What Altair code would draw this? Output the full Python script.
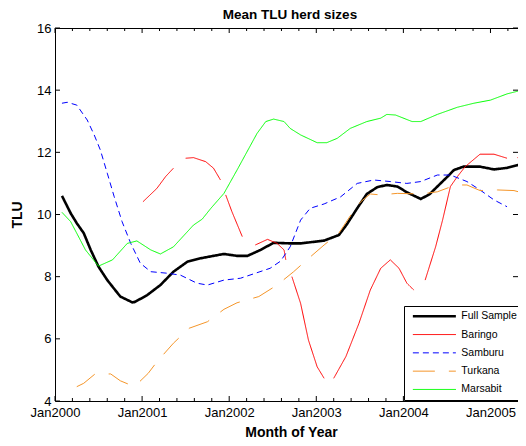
import altair as alt
import pandas as pd

# ---------------- data ----------------
series_names = ["Full Sample", "Baringo", "Samburu", "Turkana", "Marsabit"]
series_colors = ["#000000", "#ff0000", "#0000ff", "#f5962a", "#00ff00"]
series_dash = [[1, 0], [1, 0], [6, 4], [22, 14], [1, 0]]

full_t = [2000.08, 2000.18, 2000.25, 2000.33, 2000.41, 2000.50, 2000.60, 2000.75, 2000.89, 2000.92,
          2001.06, 2001.21, 2001.36, 2001.52, 2001.67, 2001.80, 2001.94, 2002.09, 2002.21, 2002.36,
          2002.51, 2002.70, 2002.82, 2003.09, 2003.26, 2003.35, 2003.47, 2003.58, 2003.70, 2003.81,
          2003.93, 2004.05, 2004.20, 2004.30, 2004.39, 2004.50, 2004.58, 2004.69, 2004.88, 2005.04,
          2005.19, 2005.36]
full_v = [10.60, 10.04, 9.72, 9.40, 8.86, 8.32, 7.89, 7.36, 7.17, 7.19,
          7.41, 7.73, 8.16, 8.48, 8.59, 8.66, 8.73, 8.67, 8.67, 8.86,
          9.09, 9.07, 9.07, 9.16, 9.34, 9.68, 10.20, 10.66, 10.88, 10.95,
          10.90, 10.70, 10.50, 10.65, 10.90, 11.20, 11.43, 11.54, 11.54, 11.45,
          11.50, 11.62]

baringo_t = [2001.01, 2001.17, 2001.27, 2001.36,
             2001.50, 2001.59, 2001.73, 2001.82, 2001.90,
             2001.96, 2002.03, 2002.15,
             2002.30, 2002.44, 2002.55, 2002.63, 2002.65,
             2002.72, 2002.82, 2002.91, 2003.01, 2003.09,
             2003.20, 2003.34, 2003.49, 2003.62, 2003.74, 2003.85, 2003.95, 2004.04, 2004.12,
             2004.25, 2004.37, 2004.45, 2004.54, 2004.62, 2004.71, 2004.88, 2005.04, 2005.19,
             2005.31, 2005.36]
baringo_v = [10.41, 10.84, 11.22, 11.49,
             11.81, 11.83, 11.70, 11.49, 11.11,
             10.63, 10.10, 9.29,
             9.02, 9.20, 9.07, 8.86, 8.54,
             8.00, 7.14, 5.96, 5.10, 4.73,
             4.73, 5.43, 6.50, 7.57, 8.27, 8.54, 8.27, 7.79, 7.57,
             7.89, 8.96, 9.82, 10.90, 11.22, 11.54, 11.94, 11.94, 11.81,
             11.83, 11.84]
baringo_seg = [1, 1, 1, 1,
               2, 2, 2, 2, 2,
               3, 3, 3,
               4, 4, 4, 4, 4,
               5, 5, 5, 5, 5,
               6, 6, 6, 6, 6, 6, 6, 6, 6,
               7, 7, 7, 7, 7, 7, 7, 7, 7,
               8, 8]

samburu_t = [2000.08, 2000.14, 2000.25, 2000.37, 2000.45, 2000.52, 2000.60, 2000.68, 2000.77, 2000.87,
             2000.98, 2001.10, 2001.29, 2001.44, 2001.63, 2001.75, 2001.94, 2002.13, 2002.28, 2002.47,
             2002.59, 2002.70, 2002.82, 2002.93, 2003.09, 2003.28, 2003.47, 2003.66, 2003.85, 2004.04,
             2004.20, 2004.39, 2004.54, 2004.73, 2004.88, 2005.04, 2005.19]
samburu_v = [13.58, 13.61, 13.52, 13.04, 12.56, 12.08, 11.33, 10.57, 9.77, 9.07,
             8.43, 8.16, 8.11, 8.05, 7.79, 7.73, 7.89, 7.95, 8.09, 8.27,
             8.50, 8.96, 9.82, 10.20, 10.34, 10.57, 11.00, 11.11, 11.06, 11.00,
             11.06, 11.27, 11.27, 11.06, 10.79, 10.47, 10.25]

turkana_t = [2000.25, 2000.33, 2000.46, 2000.64, 2000.75, 2000.87, 2000.93, 2001.07, 2001.17, 2001.36,
             2001.54, 2001.75, 2001.94, 2002.09, 2002.34, 2002.55, 2002.74, 2002.90, 2003.09, 2003.26,
             2003.41, 2003.51, 2003.62, 2003.74, 2003.93, 2004.20, 2004.39, 2004.60, 2004.73, 2004.88,
             2005.08, 2005.27, 2005.36]
turkana_v = [4.46, 4.57, 4.87, 4.87, 4.65, 4.51, 4.51, 4.89, 5.26, 5.86,
             6.34, 6.55, 6.95, 7.16, 7.36, 7.73, 8.16, 8.56, 9.02, 9.40,
             10.04, 10.41, 10.66, 10.63, 10.68, 10.66, 10.73, 10.95, 10.95, 10.77,
             10.79, 10.77, 10.70]

marsabit_t = [2000.08, 2000.18, 2000.35, 2000.50, 2000.66, 2000.83, 2000.94, 2001.10, 2001.21, 2001.36,
              2001.59, 2001.69, 2001.79, 2001.94, 2002.09, 2002.32, 2002.42, 2002.51, 2002.63, 2002.70,
              2002.82, 2003.01, 2003.12, 2003.24, 2003.39, 2003.58, 2003.74, 2003.81, 2003.91, 2004.10,
              2004.20, 2004.39, 2004.62, 2004.81, 2005.00, 2005.19, 2005.36]
marsabit_v = [10.07, 9.77, 8.86, 8.34, 8.54, 9.07, 9.15, 8.86, 8.73, 8.96,
              9.66, 9.85, 10.20, 10.68, 11.43, 12.61, 12.99, 13.07, 12.99, 12.77,
              12.56, 12.31, 12.31, 12.45, 12.77, 12.99, 13.10, 13.22, 13.20, 12.99,
              12.99, 13.22, 13.45, 13.58, 13.68, 13.88, 14.00]

y_ticks = [4, 6, 8, 10, 12, 14, 16]
x_major = [2000, 2001, 2002, 2003, 2004, 2005]
x_minor = [2000.2, 2000.4, 2000.6, 2000.8, 2001.2, 2001.4, 2001.6, 2001.8,
           2002.2, 2002.4, 2002.6, 2002.8, 2003.2, 2003.4, 2003.6, 2003.8,
           2004.2, 2004.4, 2004.6, 2004.8, 2005.2]

# ---------------- build table ----------------
rows = []
def add(name, ts, vs, segs=None):
    for i, (t, v) in enumerate(zip(ts, vs)):
        s = segs[i] if segs else 0
        rows.append({"series": name, "seg": f"{name}-{s}", "t": t, "v": v})

add("Full Sample", full_t, full_v)
add("Baringo", baringo_t, baringo_v, baringo_seg)
add("Samburu", samburu_t, samburu_v)
add("Turkana", turkana_t, turkana_v)
add("Marsabit", marsabit_t, marsabit_v)
df = pd.DataFrame(rows)

W, H = 463, 373
FONT = "Liberation Sans"
XDOM = [2000, 2005.316]

xscale = alt.Scale(domain=XDOM, nice=False, zero=False)
yscale = alt.Scale(domain=[4, 16], nice=False, zero=False)

x_axis = alt.Axis(values=x_major, labelExpr="'Jan' + datum.value", ticks=False, domain=False,
                  grid=False, labelPadding=5, labelFlush=False, title="Month of Year",
                  titlePadding=6, titleFontSize=14, titleX=236)
y_axis = alt.Axis(values=y_ticks, ticks=False, domain=False, grid=False, labelPadding=4,
                  labelFlush=False, title="TLU", titlePadding=12, titleFontSize=14)

leg = alt.Legend(
    title=None, orient="none", legendX=349, legendY=278,
    symbolType="M-0.5,0H7.5", symbolSize=115.6, rowPadding=7.3,
    padding=5, symbolOffset=1.3, labelOffset=40.5,
    fillColor="white", strokeColor="black",
    labelFont=FONT, labelFontSize=10.5, labelColor="black",
    symbolStrokeWidth=alt.ExprRef(expr="datum.value === 'Full Sample' ? 2.6 : 1"),
)

lines = alt.Chart(df).mark_line(interpolate="linear", strokeCap="butt", clip=True).encode(
    x=alt.X("t:Q", scale=xscale, axis=x_axis),
    y=alt.Y("v:Q", scale=yscale, axis=y_axis),
    color=alt.Color("series:N", scale=alt.Scale(domain=series_names, range=series_colors), legend=leg),
    strokeDash=alt.StrokeDash("series:N", scale=alt.Scale(domain=series_names, range=series_dash), legend=leg),
    strokeWidth=alt.condition(alt.datum.series == "Full Sample", alt.value(2.6), alt.value(1)),
    detail="seg:N",
)

tick_df = pd.DataFrame(
    [{"t": t, "len": 5} for t in x_major] + [{"t": t, "len": 3} for t in x_minor]
)
ytick_df = pd.DataFrame({"v": y_ticks})

xt = alt.X("t:Q", scale=xscale, axis=x_axis)
yt = alt.Y("v:Q", scale=yscale, axis=y_axis)

xt_bottom_major = alt.Chart(tick_df[tick_df["len"] == 5]).mark_rule(color="black").encode(
    x=xt, y=alt.value(H), y2=alt.value(H - 5))
xt_bottom_minor = alt.Chart(tick_df[tick_df["len"] == 3]).mark_rule(color="black").encode(
    x=xt, y=alt.value(H), y2=alt.value(H - 3))
xt_top_major = alt.Chart(tick_df[tick_df["len"] == 5]).mark_rule(color="black").encode(
    x=xt, y=alt.value(0), y2=alt.value(5))
xt_top_minor = alt.Chart(tick_df[tick_df["len"] == 3]).mark_rule(color="black").encode(
    x=xt, y=alt.value(0), y2=alt.value(3))
yt_left = alt.Chart(ytick_df).mark_rule(color="black").encode(
    y=yt, x=alt.value(0), x2=alt.value(5))
yt_right = alt.Chart(ytick_df).mark_rule(color="black").encode(
    y=yt, x=alt.value(W), x2=alt.value(W - 5))

chart = alt.layer(
    lines, xt_bottom_major, xt_bottom_minor, xt_top_major, xt_top_minor, yt_left, yt_right
).properties(
    width=W, height=H,
    title=alt.TitleParams("Mean TLU herd sizes", font=FONT, fontSize=13.5, fontWeight="bold",
                          anchor="middle", frame="group", offset=1, dx=3.5, color="black"),
    autosize=alt.AutoSizeParams(type="none"),
    padding={"left": 47, "top": 20, "right": 0, "bottom": 39},
).configure_view(
    stroke="black", strokeWidth=1
).configure_axis(
    labelFont=FONT, labelFontSize=13, labelColor="black",
    titleFont=FONT, titleFontSize=14, titleFontWeight="bold", titleColor="black",
)

chart.save("out.html", embed_options={"renderer": "svg", "actions": False})
